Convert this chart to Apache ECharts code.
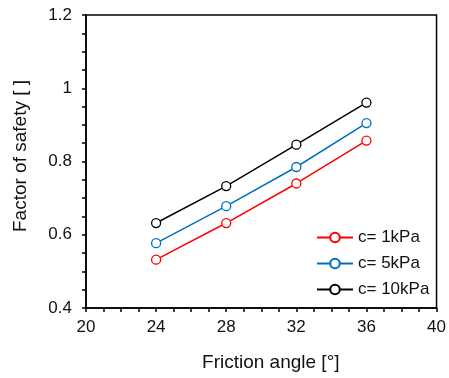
<!DOCTYPE html>
<html><head><meta charset="utf-8">
<script src="https://cdn.jsdelivr.net/npm/echarts@6/dist/echarts.min.js"></script>
<style>html,body{margin:0;padding:0;background:#fff}#c{width:449px;height:378px}</style>
</head><body><div id="c"></div>
<script>
const angles = [24, 28, 32, 36];
const fs1 = [0.532, 0.632, 0.740, 0.857];
const fs5 = [0.577, 0.678, 0.785, 0.905];
const fs10 = [0.632, 0.733, 0.846, 0.961];
const seriesNames = ['c= 1kPa', 'c= 5kPa', 'c= 10kPa'];
const colors = ['#FF0000', '#0070C0', '#000000'];
const allData = [fs1, fs5, fs10];

const font = 'Arial, "Liberation Sans", sans-serif';
const chart = echarts.init(document.getElementById('c'));
chart.setOption({
  animation: false,
  textStyle: {fontFamily: font},
  grid: {left: 86, right: 9, top: 15, bottom: 70, show: true, borderColor: '#000', borderWidth: 1.5},
  xAxis: {
    type: 'value', min: 20, max: 40, interval: 4,
    name: 'Friction angle [°]', nameLocation: 'middle', nameGap: 45,
    nameTextStyle: {fontSize: 19, color: '#111', padding: [0, 0, 0, 19]},
    axisLine: {lineStyle: {color: '#000', width: 1.5}},
    axisTick: {show: true, length: 4, lineStyle: {color: '#000', width: 1.5}},
    minorTick: {show: true, splitNumber: 4, length: 4, lineStyle: {color: '#000', width: 1.5}},
    axisLabel: {fontSize: 17, color: '#111', margin: 11},
    splitLine: {show: false}
  },
  yAxis: {
    type: 'value', min: 0.4, max: 1.2, interval: 0.2,
    name: 'Factor of safety [ ]', nameLocation: 'middle', nameGap: 56,
    nameTextStyle: {fontSize: 19, color: '#111', padding: [0, 0, 0, 11]},
    axisLine: {show: true, lineStyle: {color: '#000', width: 1.5}},
    axisTick: {show: true, length: 4, lineStyle: {color: '#000', width: 1.5}},
    minorTick: {show: true, splitNumber: 4, length: 4, lineStyle: {color: '#000', width: 1.5}},
    axisLabel: {fontSize: 17, color: '#111', margin: 14,
      formatter: v => (Math.abs(v - 1) < 1e-9 ? '1' : String(Math.round(v * 10) / 10))},
    splitLine: {show: false}
  },
  legend: {
    orient: 'vertical', left: 311, top: 224,
    itemWidth: 36, itemHeight: 12, itemGap: 9,
    textStyle: {fontSize: 17, color: '#111'},
    data: seriesNames
  },
  series: allData.map((d, i) => ({
    name: seriesNames[i], type: 'line',
    data: angles.map((a, j) => [a, d[j]]),
    symbol: 'circle', symbolSize: 9,
    itemStyle: {color: '#fff', borderColor: colors[i], borderWidth: 1.3},
    lineStyle: {color: colors[i], width: 1.5}
  }))
});
</script></body></html>
